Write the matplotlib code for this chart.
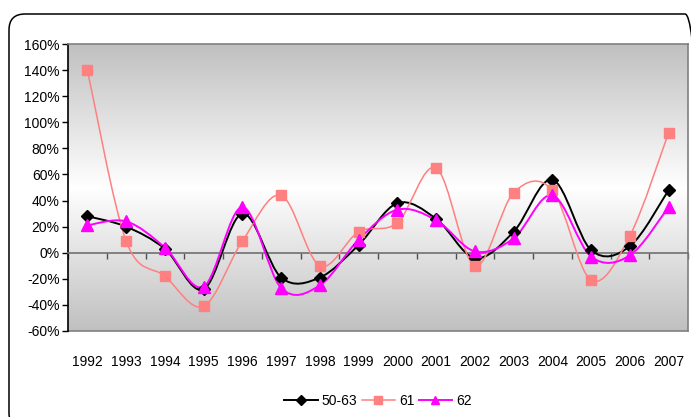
import numpy as np
import matplotlib.pyplot as plt
from matplotlib.path import Path
from matplotlib.patches import PathPatch, FancyBboxPatch
from matplotlib.lines import Line2D
from matplotlib.colors import LinearSegmentedColormap
from matplotlib.transforms import IdentityTransform

plt.rcParams['font.family'] = ['Liberation Sans', 'DejaVu Sans']

years = ['1992', '1993', '1994', '1995', '1996', '1997', '1998', '1999',
         '2000', '2001', '2002', '2003', '2004', '2005', '2006', '2007']
s_50_63 = [28, 20, 3, -28, 30, -19, -19, 6, 38, 26, -4, 16, 56, 2, 5, 48]
s_61 = [140, 9, -18, -41, 9, 44, -10, 16, 23, 65, -10, 46, 48, -21, 13, 92]
s_62 = [21, 24, 4, -26, 35, -27, -25, 10, 33, 25, 1, 11, 44, -3, -2, 35]


def smooth_path(xs, ys):
    # Catmull-Rom style bezier segments through every point
    p = np.column_stack([xs, ys]).astype(float)
    n = len(p)
    verts = [p[0]]
    codes = [Path.MOVETO]
    for i in range(n - 1):
        p0 = p[i - 1] if i > 0 else p[i]
        p3 = p[i + 2] if i + 2 < n else p[i + 1]
        c1 = p[i] + (p[i + 1] - p0) / 6
        c2 = p[i + 1] - (p3 - p[i]) / 6
        verts += [c1, c2, p[i + 1]]
        codes += [Path.CURVE4] * 3
    return Path(verts, codes)


fig = plt.figure(figsize=(6.91, 4.17), dpi=100)
fig.patch.set_facecolor('white')

# rounded chart frame, in pixels
frame = FancyBboxPatch((9, -12), 692, 415,
                       boxstyle='round,pad=0,rounding_size=16',
                       transform=IdentityTransform(), fill=False,
                       edgecolor='black', linewidth=1.1, zorder=0)
fig.patches.append(frame)

ax = fig.add_axes([68 / 691, 86 / 417, 620 / 691, 287 / 417])
x = np.arange(len(years))

# gray-white-gray background
cmap = LinearSegmentedColormap.from_list('bg', ['#c0c0c0', '#ffffff', '#c0c0c0'])
grad = np.linspace(0, 1, 256).reshape(-1, 1)
ax.imshow(grad, cmap=cmap, extent=[0, 1, 0, 1], transform=ax.transAxes,
          aspect='auto', zorder=0)

series = [
    (s_50_63, '50-63', 'black', 'D', 6.5, 1.4),
    (s_61, '61', '#ff8080', 's', 7.5, 1.1),
    (s_62, '62', '#ff00ff', '^', 8.5, 1.4),
]
handles = []
for vals, name, col, mk, ms, lw in series:
    ax.add_patch(PathPatch(smooth_path(x, vals), fill=False, edgecolor=col,
                           linewidth=lw, zorder=3, capstyle='round'))
    ax.plot(x, vals, linestyle='none', marker=mk, markersize=ms, color=col,
            markeredgecolor=col, zorder=4)
    handles.append(Line2D([], [], color=col, linewidth=lw, marker=mk,
                          markersize=ms * 0.75, markeredgecolor=col))

ax.set_xlim(-0.5, len(years) - 0.5)
ax.set_ylim(-60, 160)
ax.set_yticks(np.arange(-60, 161, 20))
ax.set_yticklabels([f'{v}%' for v in range(-60, 161, 20)])
ax.tick_params(axis='y', direction='out', length=4, width=1, colors='black',
               labelsize=10, pad=2)

# zero line acts as the category axis
ax.spines['bottom'].set_position(('data', 0))
ax.spines['bottom'].set_color('#707070')
ax.spines['bottom'].set_linewidth(1.2)
ax.set_xticks(np.arange(-0.5, len(years), 1))
ax.tick_params(axis='x', direction='out', length=4, width=1, color='#505050',
               labelbottom=False)
ax.spines['left'].set_color('black')
ax.spines['left'].set_linewidth(1.2)
for s in ('top', 'right'):
    ax.spines[s].set_color('#808080')
    ax.spines[s].set_linewidth(1.2)
ax.set_zorder(1)

# year labels along the bottom edge
sec = ax.secondary_xaxis('bottom')
sec.set_xticks(x)
sec.set_xticklabels(years)
sec.tick_params(length=0, labelsize=10, pad=17)
sec.spines['bottom'].set_color('#808080')
sec.spines['bottom'].set_linewidth(1.2)

fig.legend(handles, [s[1] for s in series], loc='center',
           bbox_to_anchor=(378 / 691, 16 / 417), ncol=3, frameon=False,
           fontsize=10, handlelength=2.4, handletextpad=0.3,
           columnspacing=0.3)

fig.savefig('out.png', dpi=100)
